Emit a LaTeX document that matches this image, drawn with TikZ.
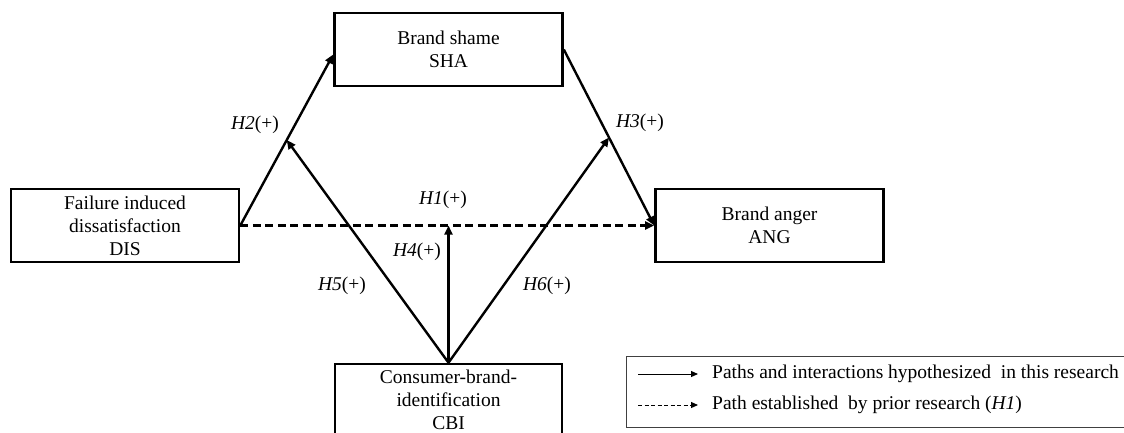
\documentclass[tikz,border=0pt]{standalone}
\usepackage{fontspec}
\setmainfont{Liberation Serif}
\usetikzlibrary{arrows.meta,calc}
\begin{document}
\begin{tikzpicture}[x=1pt,y=-1pt,
  every node/.style={font=\fontsize{19.5}{23}\selectfont},
  box/.style={draw,line width=2.6pt,rectangle,inner sep=0pt,minimum width=228pt,minimum height=73pt,align=center},
  conn/.style={line width=2.4pt,-{Triangle[length=9pt,width=8pt]}},
  prior/.style={conn,dash pattern=on 8pt off 4.5pt},
  lab/.style={inner sep=0pt},
  legline/.style={line width=1pt,-{Triangle[length=7pt,width=6pt]}},
  legtext/.style={anchor=west,inner sep=0pt}
]
\useasboundingbox (0,0) rectangle (1124,432);
\node[box] (DIS) at (125,225.5) {Failure induced\\dissatisfaction\\DIS};
\node[box] (SHA) at (448.5,49.5) {Brand shame\\SHA};
\node[box] (ANG) at (769.5,225.5) {Brand anger\\ANG};
\node[box,minimum height=72pt,minimum width=227pt] (CBI) at (448.5,400) {Consumer-brand-\\identification\\CBI};

\draw[conn] (DIS.east) -- ([yshift=-5pt]SHA.west);
\draw[conn] (SHA.east) -- (ANG.west);
\draw[prior] (DIS.east) -- (ANG.west);

\coordinate (m1) at (DIS.east -| CBI.north);
\coordinate (m2) at ($(DIS.east)!0.5!([yshift=-5pt]SHA.west)$);
\coordinate (m3) at ($(SHA.east)!0.5!(ANG.west)$);
\draw[conn] (CBI.north) -- (m1);
\draw[conn] (CBI.north) -- (m2);
\draw[conn] (CBI.north) -- (m3);

\node[lab] (h1) at (443,200) {\textit{H1}(+)};
\node[lab] (h2) at (255,125) {\textit{H2}(+)};
\node[lab] (h3) at (640,123) {\textit{H3}(+)};
\node[lab] (h4) at (417,252) {\textit{H4}(+)};
\node[lab] (h5) at (342,286) {\textit{H5}(+)};
\node[lab] (h6) at (547,286) {\textit{H6}(+)};

\draw[line width=1pt,draw=black!75] (626,356) rectangle (1135,427);
\coordinate (l1a) at (638,374);
\coordinate (l1b) at (698,374);
\coordinate (l2a) at (638,405);
\coordinate (l2b) at (698,405);
\draw[legline] (l1a) -- (l1b);
\draw[legline,dash pattern=on 4pt off 2.5pt] (l2a) -- (l2b);
\node[legtext] (t1) at (712,374) {Paths and interactions hypothesized\ \ in this research};
\node[legtext] (t2) at (712,405) {Path established\ \ by prior research (\textit{H1})};
\end{tikzpicture}
\end{document}
